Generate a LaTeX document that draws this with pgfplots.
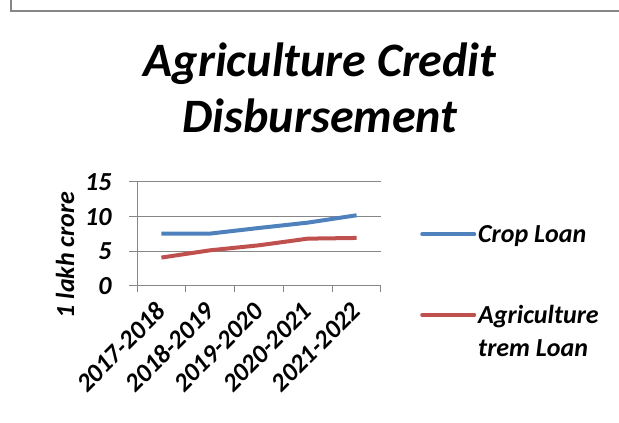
\documentclass[border=0pt]{standalone}
\usepackage{fontspec}
\setmainfont{Carlito}
\usepackage{pgfplots}
\pgfplotsset{compat=1.18}
\definecolor{cropblue}{RGB}{79,129,189}
\definecolor{termred}{RGB}{192,80,77}
\definecolor{framegray}{RGB}{134,134,134}
\newcommand{\lab}{\fontsize{26}{33}\selectfont\bfseries\itshape}
\begin{document}
\begin{tikzpicture}
\useasboundingbox (0pt,0pt) rectangle (619pt,423pt);
\draw[framegray, line width=1.6pt] (11pt,423pt) -- (11pt,412pt) -- (619pt,412pt);
\node[font=\fontsize{48}{56}\selectfont\bfseries\itshape, anchor=base] at (320pt,346pt) {Agriculture Credit};
\node[font=\fontsize{48}{56}\selectfont\bfseries\itshape, anchor=base] at (320pt,290pt) {Disbursement};
\node[rotate=90, font=\lab] at (65pt,168pt) {1 lakh crore};
\begin{axis}[
  at={(137pt,137pt)}, anchor=south west,
  scale only axis, width=244pt, height=104pt,
  xmin=-0.5, xmax=4.5, ymin=0, ymax=15,
  xtick={0,1,2,3,4},
  xticklabels={2017-2018,2018-2019,2019-2020,2020-2021,2021-2022},
  minor xtick={-0.5,0.5,1.5,2.5,3.5,4.5},
  ytick={0,5,10,15},
  major x tick style={draw=none},
  tick align=outside, tick pos=left,
  major tick length=8pt, minor tick length=6pt,
  tick style={framegray, line width=1pt},
  axis lines*=left,
  axis line style={-, framegray, line width=1pt},
  ymajorgrids, grid style={framegray, line width=1pt},
  ticklabel style={font=\lab},
  /pgf/number format/assume math mode=true,
  xticklabel style={xshift=2pt, yshift=-10.5pt, rotate=45, anchor=east},
  yticklabel style={xshift=-14pt},
  legend style={at={(1.16,0.64)}, anchor=north west, draw=none, fill=none,
    font=\lab, inner sep=0pt, row sep=52pt, column sep=0pt,
    cells={anchor=base west, inner sep=0pt},
    /tikz/column 2/.style={column sep=6pt}},
  legend image code/.code={\path (0pt,21pt); \draw[#1, line cap=round] (0pt,8.4pt) -- (52pt,8.4pt);},
]
\addplot[cropblue, line width=4pt, line join=round] coordinates {(0,7.56) (1,7.56) (2,8.37) (3,9.14) (4,10.2)};
\addlegendentry{Crop Loan}
\addplot[termred, line width=4pt, line join=round] coordinates {(0,4.1) (1,5.15) (2,5.87) (3,6.83) (4,6.93)};
\addlegendentry{\begin{tabular}[t]{@{}l@{}}Agriculture\\trem Loan\end{tabular}}
\end{axis}
\end{tikzpicture}
\end{document}
